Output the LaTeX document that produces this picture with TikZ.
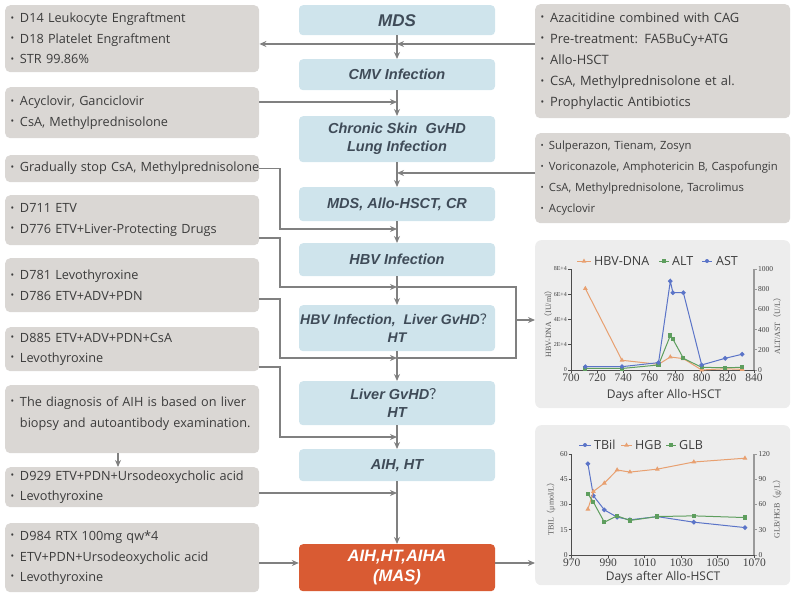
\documentclass[tikz,border=0pt]{standalone}
\usepackage{fontspec}
\usepackage{graphicx}
\setmainfont{Open Sans}
\newfontfamily\arialf{Liberation Sans}
\newfontfamily\seriff{Liberation Serif}
\newfontfamily\cjkf{Noto Sans CJK SC}
\usetikzlibrary{arrows.meta,plotmarks}
\definecolor{boxgray}{HTML}{DAD7D4}
\definecolor{cblue}{HTML}{CFE4EC}
\definecolor{ctext}{HTML}{3F4B58}
\definecolor{btext}{HTML}{3C3C3C}
\definecolor{panel}{HTML}{EDEDED}
\definecolor{lgray}{HTML}{808080}
\definecolor{masred}{HTML}{D95B33}
\definecolor{sorange}{HTML}{E8A070}
\definecolor{sgreen}{HTML}{5E9E5E}
\definecolor{sblue}{HTML}{5B74C8}
\definecolor{axgray}{HTML}{9A9A9A}
\newcommand\mybul{\raisebox{0.25ex}{\scalebox{0.75}{\textbullet}}\hspace{0.45em}}
\newcommand\fwq{{\cjkf\upshape\mdseries ？}}
\begin{document}
\begin{tikzpicture}[x=1pt,y=-1pt,
  conn/.style={draw=lgray, line width=1.2pt},
  arr/.style={conn, -{Stealth[length=7pt,width=6pt]}},
  lbox/.style={fill=boxgray, rounded corners=5pt, anchor=north west, text width=243pt, inner xsep=5.5pt, inner ysep=0pt, align=left, text=btext, font=\fontsize{12.7}{20.5}\selectfont},
  cbox/.style={fill=cblue, rounded corners=4pt, anchor=north, minimum width=196pt, inner sep=0pt, align=center, text=ctext, font=\arialf\bfseries\itshape\fontsize{14.5}{18}\selectfont},
  pnl/.style={fill=panel, rounded corners=6pt, anchor=north west, minimum width=255pt, inner sep=0pt},
  tickl/.style={font=\seriff\fontsize{7.5}{8}\selectfont, text=black!75, inner sep=1pt},
  tickb/.style={font=\seriff\fontsize{11.5}{12}\selectfont, text=black!75, inner sep=1pt, anchor=north},
  ylab/.style={rotate=90, font=\seriff\fontsize{8}{9}\selectfont, text=black!65, inner sep=0pt},
  legt/.style={font=\fontsize{12.5}{14}\selectfont, text=btext, anchor=west, inner sep=0pt},
  xlab/.style={font=\fontsize{12}{14}\selectfont, text=btext, inner sep=0pt},
  dat/.style={line width=1pt, mark size=1.8pt, mark options={solid}},
]
\useasboundingbox (0,0) rectangle (795,596);

% ---------- left boxes ----------
\node[lbox, minimum height=67pt] (L1) at (5,5) {\mybul D14 Leukocyte Engraftment\\ \mybul D18 Platelet Engraftment\\ \mybul STR 99.86\%};
\node[lbox, minimum height=51pt] (L2) at (5,87) {\mybul Acyclovir, Ganciclovir\\ \mybul CsA, Methylprednisolone};
\node[lbox, minimum height=27pt] (L3) at (5,155) {\mbox{\mybul Gradually stop CsA, Methylprednisolone}};
\node[lbox, minimum height=50pt] (L4) at (5,195) {\mybul D711 ETV\\ \mybul D776 ETV+Liver-Protecting Drugs};
\node[lbox, minimum height=54pt] (L5) at (5,258) {\mybul D781 Levothyroxine\\ \mybul D786 ETV+ADV+PDN};
\node[lbox, minimum height=44pt] (L6) at (5,327) {\mybul D885 ETV+ADV+PDN+CsA\\ \mybul Levothyroxine};
\node[lbox, minimum height=68pt] (L7) at (5,385) {\mybul The diagnosis of AIH is based on liver\\ \phantom{\mybul}biopsy and autoantibody examination.\\[-6pt] \mbox{}};
\node[lbox, minimum height=40pt] (L8) at (5,467) {\mybul D929 ETV+PDN+Ursodeoxycholic acid\\ \mybul Levothyroxine};
\node[lbox, minimum height=69pt] (L9) at (5,523) {\mybul D984 RTX 100mg qw*4\\ \mybul ETV+PDN+Ursodeoxycholic acid\\ \mybul Levothyroxine};

% ---------- right boxes ----------
\node[lbox, text width=244pt, minimum height=114pt, font=\fontsize{12.9}{21.2}\selectfont] (R1) at (535,4) {\mybul Azacitidine combined with CAG\\ \mybul Pre-treatment: FA5BuCy+ATG\\ \mybul Allo-HSCT\\ \mybul CsA, Methylprednisolone et al.\\ \mybul Prophylactic Antibiotics};
\node[lbox, text width=244pt, minimum height=90pt, font=\fontsize{11.3}{21}\selectfont] (R2) at (535,133) {\mybul Sulperazon, Tienam, Zosyn\\ \mybul Voriconazole, Amphotericin B, Caspofungin\\ \mybul CsA, Methylprednisolone, Tacrolimus\\ \mybul Acyclovir};

% ---------- center column ----------
\node[cbox, minimum height=30pt, font=\arialf\bfseries\itshape\fontsize{17}{20}\selectfont] (C1) at (397,5) {MDS};
\node[cbox, minimum height=31pt] (C2) at (397,59) {CMV Infection};
\node[cbox, minimum height=46pt] (C3) at (397,116) {Chronic Skin~~GvHD\\Lung Infection};
\node[cbox, minimum height=34pt] (C4) at (397,187) {MDS, Allo-HSCT, CR};
\node[cbox, minimum height=33pt] (C5) at (397,243) {HBV Infection};
\node[cbox, minimum height=46pt, font=\arialf\bfseries\itshape\fontsize{14}{18}\selectfont] (C6) at (397,305) {HBV Infection,~~Liver GvHD\fwq\\HT};
\node[cbox, minimum height=44pt] (C7) at (397,381) {Liver GvHD\fwq\\HT};
\node[cbox, minimum height=32pt] (C8) at (397,449) {AIH, HT};
\node[cbox, minimum height=47pt, fill=masred, text=white, font=\arialf\bfseries\itshape\fontsize{16.5}{20}\selectfont] (C9) at (397,544) {AIH,HT,AIHA\\(MAS)};

% ---------- chart panels ----------
\node[pnl, minimum height=168pt] (P1) at (535,240) {};
\node[pnl, minimum height=160pt] (P2) at (535,425) {};

% ---------- connectors ----------
\coordinate (k) at (280,0);
\coordinate (m1) at (397,44);
\coordinate (m2) at (397,102);
\coordinate (m3) at (397,173);
\coordinate (m4) at (397,229);
\coordinate (m5) at (397,287);
\coordinate (m6) at (397,358);
\coordinate (m7) at (397,437);
\coordinate (m8) at (397,493);
\coordinate (s4) at (259,238);
\coordinate (s5) at (259,299);
\coordinate (s6) at (259,367);
\coordinate (s7) at (118,453);
\coordinate (s9) at (259,563);
\coordinate (q1) at (516,287);
\coordinate (q2) at (516,358);
\coordinate (q3) at (516,320);

\draw[arr] (C1) -- (C2);
\draw[arr] (C2) -- (C3);
\draw[arr] (C3) -- (C4);
\draw[arr] (C4) -- (C5);
\draw[arr] (C5) -- (C6);
\draw[arr] (C6) -- (C7);
\draw[arr] (C7) -- (C8);
\draw[arr] (C8) -- (C9);

\draw[arr] (R1.west |- m1) -- (m1);
\draw[arr] (m1) -- (L1.east |- m1);
\draw[arr] (L2.east |- m2) -- (m2);
\draw[arr] (R2.west |- m3) -- (m3);
\draw[arr] (L3.east) -| (k |- m4) -- (m4);
\draw[arr] (s4) -| (k |- m5) -- (m5);
\draw[arr] (s5) -| (k |- m6) -- (m6);
\draw[arr] (s6) -| (k |- m7) -- (m7);
\draw[arr] (s7) -- (s7 |- L8.north);
\draw[arr] (L8.east |- m8) -- (m8);
\draw[arr] (s9) -- (s9 -| C9.west);
\draw[arr] (C9.east |- s9) -- (P2.west |- s9);
\draw[conn] (m5) -- (q1) -- (q2) -- (m6);
\draw[arr] (q3) -- (P1.west |- q3);

% ---------- chart 1 ----------
\draw[sorange, line width=1pt] (577,261) -- (591,261);
\fill[sorange] (584,258.5) -- (586.3,262.6) -- (581.7,262.6) -- cycle;
\node[legt] (lg1) at (594,261) {HBV-DNA};
\draw[sgreen, line width=1pt] (659,261) -- (669,261);
\fill[sgreen] (662,259) rectangle (666,263);
\node[legt] (lg2) at (672,261) {ALT};
\draw[sblue, line width=1pt] (702,261) -- (712,261);
\fill[sblue] (707,261) circle (2pt);
\node[legt] (lg3) at (716,261) {AST};
\draw[black!70, line width=0.7pt] (571,269) -- (571,370) -- (754,370);
\draw[axgray, line width=1.8pt] (754,269) -- (754,370);
\foreach \i/\t in {0/0,1/2E+4,2/4E+4,3/6E+4,4/8E+4}{
  \draw[black!70, line width=0.6pt] (568,370-\i*25.25) -- (571,370-\i*25.25);
  \node[tickl, anchor=east] (a\i) at (568,370-\i*25.25) {\fontsize{6}{7}\selectfont\t};
}
\foreach \i/\t in {0/0,1/200,2/400,3/600,4/800,5/1000}{
  \draw[axgray, line width=0.8pt] (754,370-\i*20.2) -- (757,370-\i*20.2);
  \node[tickl, anchor=west] (b\i) at (757,370-\i*20.2) {\t};
}
\foreach \i/\t in {0/700,1/720,2/740,3/760,4/780,5/800,6/820,7/840}{
  \draw[black!70, line width=0.6pt] (571+\i*26.143,370) -- (571+\i*26.143,373);
  \node[tickb] (c\i) at (571+\i*26.143,373) {\t};
}
\node[ylab] (y1l) at (548,322) {HBV-DNA{\cjkf （}IU/ml{\cjkf ）}};
\node[ylab] (y1r) at (777,324) {ALT/AST{\cjkf （}U/L{\cjkf ）}};
\node[xlab] (x1) at (664,395) {Days after Allo-HSCT};
\begin{scope}[shift={(-344pt,-370pt)}, x=1.3071pt, y=12.625pt]
  \draw[sorange, dat, mark=triangle*] plot coordinates {(711,6.45) (739,0.77) (767,0.45) (776,1.03) (786,0.9) (800,0.0) (818,0.1) (831,0.05)};
\end{scope}
\begin{scope}[shift={(-344pt,-370pt)}, x=1.3071pt, y=0.101pt]
  \draw[sgreen, dat, mark=square*, mark size=1.6pt] plot coordinates {(711,15) (739,15) (767,50) (776,341) (778,305) (786,116) (800,26) (818,23) (831,26)};
  \draw[sblue, dat, mark=*] plot coordinates {(711,33) (739,33) (767,73) (776,880) (778,765) (786,765) (800,50) (818,116) (831,156)};
\end{scope}

% ---------- chart 2 ----------
\draw[sblue, line width=1pt] (579,445) -- (591,445);
\fill[sblue] (585,445) circle (2pt);
\node[legt] (lg4) at (594,445) {TBil};
\draw[sorange, line width=1pt] (621,445) -- (632,445);
\fill[sorange] (626.5,442.5) -- (628.8,446.6) -- (624.2,446.6) -- cycle;
\node[legt] (lg5) at (635,445) {HGB};
\draw[sgreen, line width=1pt] (666,445) -- (676,445);
\fill[sgreen] (669,443) rectangle (673,447);
\node[legt] (lg6) at (679,445) {GLB};
\draw[black!70, line width=0.7pt] (571.7,454) -- (571.7,555) -- (754.3,555);
\draw[axgray, line width=1.8pt] (754.3,454) -- (754.3,555);
\foreach \i/\t in {0/0,1/15,2/30,3/45,4/60}{
  \draw[black!70, line width=0.6pt] (568.7,555-\i*25.25) -- (571.7,555-\i*25.25);
  \node[tickl, anchor=east] (d\i) at (568.7,555-\i*25.25) {\t};
}
\foreach \i/\t in {0/0,1/30,2/60,3/90,4/120}{
  \draw[axgray, line width=0.8pt] (754.3,555-\i*25.25) -- (757.3,555-\i*25.25);
  \node[tickl, anchor=west] (e\i) at (757.3,555-\i*25.25) {\t};
}
\foreach \i/\t in {0/970,1/990,2/1010,3/1030,4/1050,5/1070}{
  \draw[black!70, line width=0.6pt] (571.7+\i*36.52,555) -- (571.7+\i*36.52,558);
  \node[tickb] (f\i) at (571.7+\i*36.52,558) {\t};
}
\node[ylab] (y2l) at (551,507) {TBIL{\cjkf （}μmol/L{\cjkf ）}};
\node[ylab] (y2r) at (777,507) {GLB/HGB{\cjkf （}g/L{\cjkf ）}};
\node[xlab] (x2) at (663,577) {Days after Allo-HSCT};
\begin{scope}[shift={(-1203.4pt,-555pt)}, x=1.826pt, y=1.6833pt]
  \draw[sblue, dat, mark=*] plot coordinates {(981,54.2) (984,35.2) (990,26.8) (997,22.5) (1004,20.9) (1019,22.8) (1039,19.5) (1067,16.3)};
\end{scope}
\begin{scope}[shift={(-1203.4pt,-555pt)}, x=1.826pt, y=0.8417pt]
  \draw[sorange, dat, mark=triangle*] plot coordinates {(981,54.4) (984,75.5) (990,85.4) (997,101) (1004,98.5) (1019,102) (1039,110.5) (1067,115)};
  \draw[sgreen, dat, mark=square*, mark size=1.6pt] plot coordinates {(981,72.7) (984,62.8) (990,39) (997,46.5) (1004,41) (1019,45.7) (1039,46.5) (1067,44.5)};
\end{scope}
\end{tikzpicture}
\end{document}
